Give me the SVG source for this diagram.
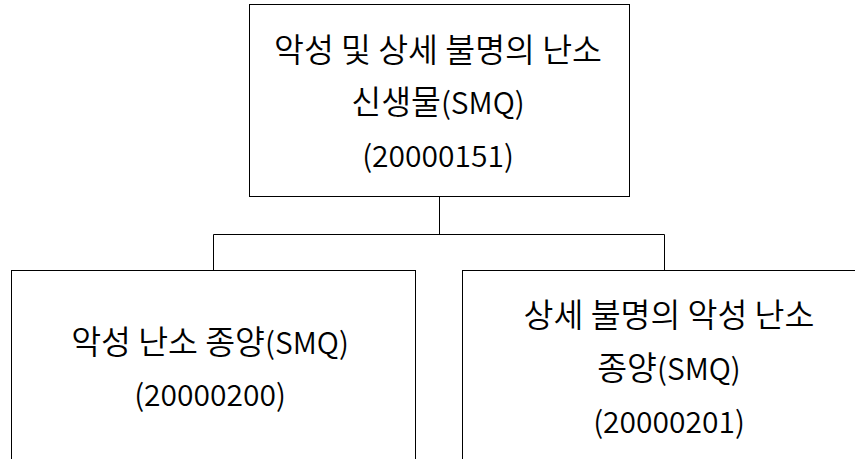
<svg xmlns="http://www.w3.org/2000/svg" width="855" height="459" viewBox="0 0 855 459">
<style>
.box{fill:#fff;stroke:#000;stroke-width:1}
.con{fill:none;stroke:#000;stroke-width:1}
text{font-family:"Noto Sans CJK KR","Noto Sans",sans-serif;font-size:30px;font-weight:350;fill:#000;text-anchor:middle}
.k{font-size:32.5px}
</style>
<rect width="855" height="459" fill="#fff"/>
<g id="connectors">
<path class="con" d="M439.5 196.5V234.5M213.5 234.5H664.5M213.5 234.5V270.5M664.5 234.5V270.5"/>
</g>
<g id="node-top">
<rect class="box" x="249.5" y="4.5" width="380" height="192"/>
<text x="438" y="62"><tspan class="k">악성 및 상세 불명의 난소</tspan></text>
<text x="438" y="114"><tspan class="k">신생물</tspan>(SMQ)</text>
<text x="438" y="167">(20000151)</text>
</g>
<g id="node-left">
<rect class="box" x="11.5" y="270.5" width="404" height="200"/>
<text x="210" y="354"><tspan class="k">악성 난소 종양</tspan>(SMQ)</text>
<text x="210" y="406">(20000200)</text>
</g>
<g id="node-right">
<rect class="box" x="462.5" y="270.5" width="404" height="200"/>
<text x="669" y="327"><tspan class="k">상세 불명의 악성 난소</tspan></text>
<text x="669" y="380"><tspan class="k">종양</tspan>(SMQ)</text>
<text x="669" y="433">(20000201)</text>
</g>
</svg>
